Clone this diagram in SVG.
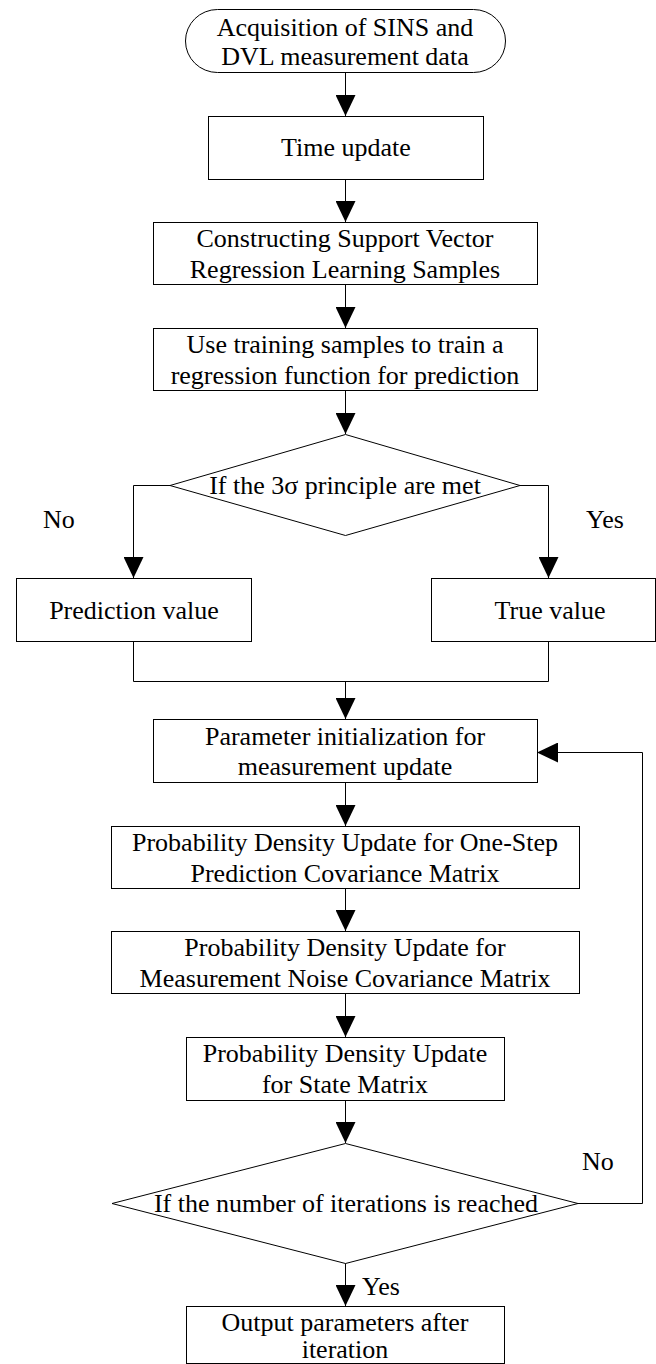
<svg xmlns="http://www.w3.org/2000/svg" width="656" height="1364" viewBox="0 0 656 1364">
<defs>
<style>
.n{fill:#fff;stroke:#000;stroke-width:1}
.c{fill:none;stroke:#000;stroke-width:1}
text{font-family:"Liberation Serif","Times New Roman",serif;font-size:26px;fill:#000}
.m{text-anchor:middle}
</style>
<marker id="ah" viewBox="0 0 21 20" refX="21" refY="10" markerWidth="21" markerHeight="20" markerUnits="userSpaceOnUse" orient="auto">
<path d="M0,0 L21,10 L0,20 z" fill="#000"/>
</marker>
</defs>
<rect width="656" height="1364" fill="#fff"/>
<g id="connectors">
<line class="c" x1="345.5" y1="73" x2="345.5" y2="116" marker-end="url(#ah)"/>
<line class="c" x1="345.5" y1="180" x2="345.5" y2="222" marker-end="url(#ah)"/>
<line class="c" x1="345.5" y1="285" x2="345.5" y2="328" marker-end="url(#ah)"/>
<line class="c" x1="345.5" y1="391" x2="345.5" y2="434" marker-end="url(#ah)"/>
<polyline class="c" points="170,485.5 133.5,485.5 133.5,578" marker-end="url(#ah)"/>
<polyline class="c" points="520,485.5 548.5,485.5 548.5,578" marker-end="url(#ah)"/>
<polyline class="c" points="133.5,642 133.5,681.5 548.5,681.5 548.5,642"/>
<line class="c" x1="345.5" y1="681.5" x2="345.5" y2="719" marker-end="url(#ah)"/>
<line class="c" x1="345.5" y1="783" x2="345.5" y2="826" marker-end="url(#ah)"/>
<line class="c" x1="345.5" y1="889" x2="345.5" y2="931" marker-end="url(#ah)"/>
<line class="c" x1="345.5" y1="994" x2="345.5" y2="1037" marker-end="url(#ah)"/>
<line class="c" x1="345.5" y1="1101" x2="345.5" y2="1143" marker-end="url(#ah)"/>
<polyline class="c" points="578,1203.5 642.5,1203.5 642.5,752.5 537,752.5" marker-end="url(#ah)"/>
<line class="c" x1="345.5" y1="1263" x2="345.5" y2="1306" marker-end="url(#ah)"/>
<text x="43" y="528">No</text>
<text x="586" y="528">Yes</text>
<text x="582" y="1170">No</text>
<text x="362" y="1295">Yes</text>
</g>
<g id="start">
<rect class="n" x="185.5" y="9.5" width="320" height="63" rx="32" ry="31.5"/>
<text class="m" x="345" y="36">Acquisition of SINS and</text>
<text class="m" x="345" y="65">DVL measurement data</text>
</g>
<g id="time-update">
<rect class="n" x="208.5" y="116.5" width="275" height="63"/>
<text class="m" x="346" y="156">Time update</text>
</g>
<g id="construct-samples">
<rect class="n" x="153.5" y="222.5" width="384" height="62"/>
<text class="m" x="345" y="247">Constructing Support Vector</text>
<text class="m" x="345" y="278">Regression Learning Samples</text>
</g>
<g id="train-regression">
<rect class="n" x="153.5" y="328.5" width="384" height="62"/>
<text class="m" x="345" y="353">Use training samples to train a</text>
<text class="m" x="345" y="384">regression function for prediction</text>
</g>
<g id="decision-3sigma">
<polygon class="n" points="345.5,434.5 520,485.5 345.5,535.5 170,485.5"/>
<text class="m" x="345" y="494">If the 3σ principle are met</text>
</g>
<g id="prediction-value">
<rect class="n" x="16.5" y="578.5" width="235" height="63"/>
<text class="m" x="134" y="619">Prediction value</text>
</g>
<g id="true-value">
<rect class="n" x="431.5" y="578.5" width="224" height="63"/>
<text class="m" x="550" y="619">True value</text>
</g>
<g id="param-init">
<rect class="n" x="153.5" y="719.5" width="384" height="63"/>
<text class="m" x="345" y="745">Parameter initialization for</text>
<text class="m" x="345" y="775">measurement update</text>
</g>
<g id="pdu-one-step">
<rect class="n" x="111.5" y="826.5" width="468" height="62"/>
<text class="m" x="345" y="851">Probability Density Update for One-Step</text>
<text class="m" x="345" y="882">Prediction Covariance Matrix</text>
</g>
<g id="pdu-noise">
<rect class="n" x="111.5" y="931.5" width="468" height="62"/>
<text class="m" x="345" y="956">Probability Density Update for</text>
<text class="m" x="345" y="987">Measurement Noise Covariance Matrix</text>
</g>
<g id="pdu-state">
<rect class="n" x="186.5" y="1037.5" width="318" height="63"/>
<text class="m" x="345" y="1062">Probability Density Update</text>
<text class="m" x="345" y="1093">for State Matrix</text>
</g>
<g id="decision-iterations">
<polygon class="n" points="345.5,1143.5 578,1203.5 345.5,1263.5 112,1203.5"/>
<text class="m" x="346" y="1212">If the number of iterations is reached</text>
</g>
<g id="output">
<rect class="n" x="186.5" y="1306.5" width="318" height="57"/>
<text class="m" x="345" y="1331">Output parameters after</text>
<text class="m" x="345" y="1358">iteration</text>
</g>
</svg>
